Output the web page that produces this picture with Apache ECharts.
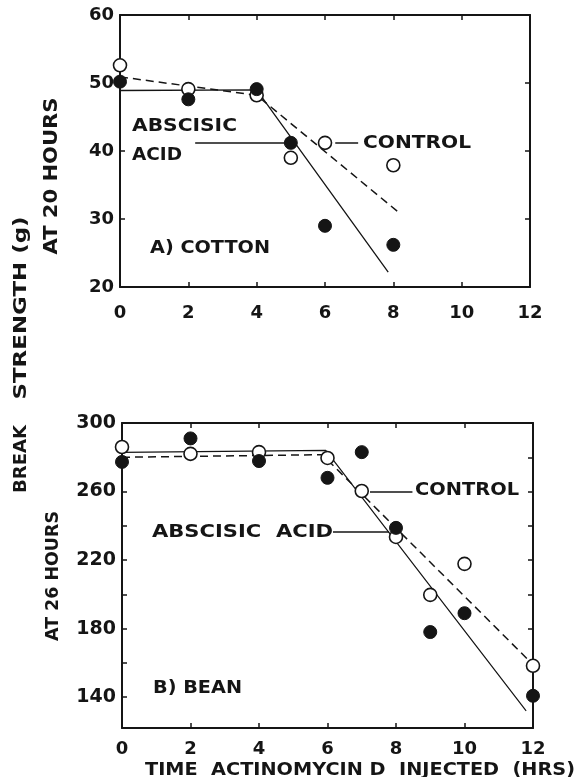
<!DOCTYPE html>
<html><head><meta charset="utf-8">
<script src="https://cdn.jsdelivr.net/npm/echarts@6/dist/echarts.min.js"></script>
<style>html,body{margin:0;padding:0;background:#fff}#c{width:578px;height:777px}</style>
</head><body><div id="c"></div>
<script>
// ---- data ----
const hoursCotton = [0, 2, 4, 5, 6, 8];
const cottonControl = [52.6, 49.1, 48.2, 39.0, 41.2, 37.9];
const cottonABA = [50.2, 47.6, 49.1, 41.2, 29.0, 26.2];
const cottonControlFitX = [0, 4, 8.15];
const cottonControlFitY = [50.9, 48.2, 31.0];
const cottonABAFitX = [0, 4, 7.85];
const cottonABAFitY = [48.9, 49.0, 22.2];

const hoursBean = [0, 2, 4, 6, 7, 8, 9, 10, 12];
const beanControl = [286, 282, 283, 279.6, 260.3, 233.5, 199.7, 217.8, 158.3];
const beanABA = [277.3, 291, 277.8, 268, 283, 238.8, 178, 189, 140.8];
const beanControlFitX = [0, 5.85, 11.85];
const beanControlFitY = [280, 281.5, 162];
const beanABAFitX = [0, 5.95, 11.8];
const beanABAFitY = [282.8, 284, 132];

const beanTickValues = [140, 160, 180, 200, 220, 240, 260, 280, 300];
const beanLabelValues = [140, 180, 220, 260, 300];

// leader lines [x1, x2, y]
const cottonABALeader = [2.2, 4.9, 41.2];
const cottonControlLeader = [6.3, 6.97, 41.2];
const beanControlLeader = [7.24, 8.48, 260];
const beanABALeader = [6.16, 7.8, 236.5];

const INK = '#151515';
const FONT = '"DejaVu Sans", sans-serif';

const zip = (xs, ys) => xs.map((x, i) => [x, ys[i]]);

const measureCtx = document.createElement('canvas').getContext('2d');
function textW(text, font) { measureCtx.font = font; return measureCtx.measureText(text).width; }

// text whose footprint is stretched to the reference's letter-spaced width
function label(text, x, y, size, width, rotated) {
  const font = 'bold ' + size + 'px ' + FONT;
  const s = width / textW(text, font);
  return {
    type: 'text', x: x, y: y, scaleX: s, rotation: rotated ? Math.PI / 2 : 0,
    style: { text: text, fill: INK, font: font,
      align: rotated ? 'center' : 'left', verticalAlign: 'middle' }
  };
}

function frameX(gi, pos, showLabels, margin) {
  return {
    type: 'value', gridIndex: gi, position: pos, min: 0, max: 12, interval: 2,
    axisLine: { show: true, onZero: false, lineStyle: { color: INK, width: 2 } },
    axisTick: { show: true, inside: true, length: 5, lineStyle: { color: INK, width: 1.5 } },
    axisLabel: { show: showLabels, color: INK, fontFamily: FONT, fontWeight: 'bold', fontSize: 18, margin: margin },
    splitLine: { show: false }
  };
}

function leader(l) {
  return [{ coord: [l[0], l[2]] }, { coord: [l[1], l[2]] }];
}

const openStyle = { color: '#fff', borderColor: INK, borderWidth: 1.6, opacity: 1 };
const filledStyle = { color: INK, borderColor: INK, borderWidth: 1, opacity: 1 };

const option = {
  animation: false,
  backgroundColor: '#fff',
  grid: [
    { left: 120, top: 15, width: 410, height: 272 },
    { left: 122, top: 423, width: 411, height: 305 }
  ],
  xAxis: [
    frameX(0, 'bottom', true, 17),
    frameX(0, 'top', false, 8),
    frameX(1, 'bottom', true, 12),
    frameX(1, 'top', false, 8)
  ],
  yAxis: [
    { type: 'value', gridIndex: 0, position: 'left', min: 20, max: 60, interval: 10,
      axisLine: { show: true, onZero: false, lineStyle: { color: INK, width: 2 } },
      axisTick: { show: true, inside: true, length: 5, lineStyle: { color: INK, width: 1.5 } },
      axisLabel: { color: INK, fontFamily: FONT, fontWeight: 'bold', fontSize: 18, margin: 6 },
      splitLine: { show: false } },
    { type: 'value', gridIndex: 0, position: 'right', min: 20, max: 60, interval: 10,
      axisLine: { show: true, onZero: false, lineStyle: { color: INK, width: 2 } },
      axisTick: { show: true, inside: true, length: 5, lineStyle: { color: INK, width: 1.5 } },
      axisLabel: { show: false }, splitLine: { show: false } },
    { type: 'value', gridIndex: 1, position: 'left', min: 122, max: 300,
      axisLine: { show: true, onZero: false, lineStyle: { color: INK, width: 2 } },
      axisTick: { show: true, inside: true, length: 5, customValues: beanTickValues, lineStyle: { color: INK, width: 1.5 } },
      axisLabel: { color: INK, fontFamily: FONT, fontWeight: 'bold', fontSize: 19, margin: 6, customValues: beanLabelValues },
      splitLine: { show: false } },
    { type: 'value', gridIndex: 1, position: 'right', min: 122, max: 300,
      axisLine: { show: true, onZero: false, lineStyle: { color: INK, width: 2 } },
      axisTick: { show: true, inside: true, length: 5, customValues: beanTickValues, lineStyle: { color: INK, width: 1.5 } },
      axisLabel: { show: false, customValues: beanLabelValues }, splitLine: { show: false } }
  ],
  series: [
    // cotton fits
    { type: 'line', xAxisIndex: 0, yAxisIndex: 0, data: zip(cottonControlFitX, cottonControlFitY),
      showSymbol: false, symbol: 'none', z: 2,
      lineStyle: { color: INK, width: 1.5, type: [8, 5] } },
    { type: 'line', xAxisIndex: 0, yAxisIndex: 0, data: zip(cottonABAFitX, cottonABAFitY),
      showSymbol: false, symbol: 'none', z: 2,
      lineStyle: { color: INK, width: 1.3 },
      markLine: { silent: true, symbol: 'none', label: { show: false },
        lineStyle: { color: INK, width: 1.5, type: 'solid' },
        data: [leader(cottonABALeader), leader(cottonControlLeader)] } },
    // cotton points
    { type: 'scatter', xAxisIndex: 0, yAxisIndex: 0, data: zip(hoursCotton, cottonControl),
      symbol: 'circle', symbolSize: 13, z: 5, itemStyle: openStyle },
    { type: 'scatter', xAxisIndex: 0, yAxisIndex: 0, data: zip(hoursCotton, cottonABA),
      symbol: 'circle', symbolSize: 13, z: 6, itemStyle: filledStyle },
    // bean fits
    { type: 'line', xAxisIndex: 2, yAxisIndex: 2, data: zip(beanControlFitX, beanControlFitY),
      showSymbol: false, symbol: 'none', z: 2,
      lineStyle: { color: INK, width: 1.5, type: [8, 5] } },
    { type: 'line', xAxisIndex: 2, yAxisIndex: 2, data: zip(beanABAFitX, beanABAFitY),
      showSymbol: false, symbol: 'none', z: 2,
      lineStyle: { color: INK, width: 1.2 },
      markLine: { silent: true, symbol: 'none', label: { show: false },
        lineStyle: { color: INK, width: 1.5, type: 'solid' },
        data: [leader(beanControlLeader), leader(beanABALeader)] } },
    // bean points
    { type: 'scatter', xAxisIndex: 2, yAxisIndex: 2, data: zip(hoursBean, beanControl),
      symbol: 'circle', symbolSize: 13, z: 5, itemStyle: openStyle },
    { type: 'scatter', xAxisIndex: 2, yAxisIndex: 2, data: zip(hoursBean, beanABA),
      symbol: 'circle', symbolSize: 13, z: 6, itemStyle: filledStyle }
  ],
  graphic: [
    label('ABSCISIC', 132, 126, 18, 105),
    label('ACID', 132, 155, 18, 50),
    label('CONTROL', 363, 143, 18, 108),
    label('A) COTTON', 150, 248, 18, 120),
    label('CONTROL', 415, 490, 18, 104),
    label('ABSCISIC  ACID', 152, 532, 18, 181),
    label('B) BEAN', 153, 688, 18, 89),
    label('TIME  ACTINOMYCIN D  INJECTED  (HRS)', 145, 770, 18, 430),
    label('AT 20 HOURS', 52, 176, 19, 157, true),
    label('AT 26 HOURS', 53, 576, 18, 130, true),
    label('BREAK', 21, 459, 18, 68, true),
    label('STRENGTH (g)', 21, 308, 18, 183, true)
  ]
};

const chart = echarts.init(document.getElementById('c'), null, { renderer: 'canvas' });
chart.setOption(option);
</script>
</body></html>
